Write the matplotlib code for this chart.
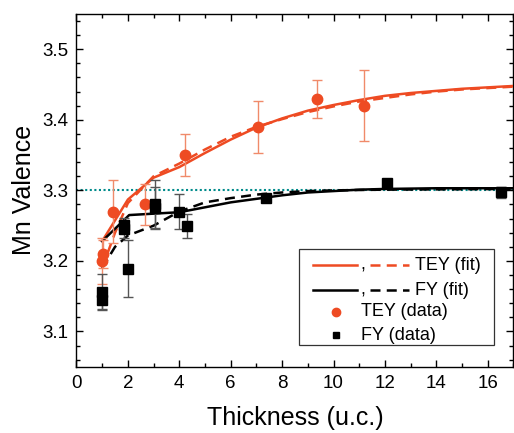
import matplotlib
matplotlib.use("Agg")
import matplotlib.pyplot as plt
from matplotlib.patches import Rectangle
from matplotlib.lines import Line2D
from matplotlib.ticker import MultipleLocator

plt.rcParams['font.family'] = ['Liberation Sans', 'DejaVu Sans']

# ---- data ----
tey_x = [1.0, 1.05, 1.42, 2.68, 4.22, 7.07, 9.35, 11.2]
tey_y = [3.200, 3.210, 3.270, 3.280, 3.350, 3.390, 3.430, 3.420]
tey_err = [0.033, 0.020, 0.045, 0.029, 0.030, 0.037, 0.027, 0.050]

fy_x = [1.0, 1.0, 1.83, 1.83, 1.99, 3.05, 3.05, 4.0, 4.29, 7.37, 12.07, 16.5]
fy_y = [3.145, 3.156, 3.245, 3.251, 3.189, 3.275, 3.281, 3.270, 3.250, 3.289, 3.310, 3.297]
fy_err = [0.013, 0.025, 0.012, 0.010, 0.040, 0.030, 0.034, 0.025, 0.017, 0.006, 0.003, 0.008]

tey_fit_x = [1.0, 2.0, 3.0, 4.0, 5.0, 6.0, 7.0, 8.0, 9.0, 10.0, 11.0, 12.0, 13.0, 14.0, 15.0, 16.0, 17.0]
tey_fit_solid = [3.228, 3.287, 3.318, 3.333, 3.353, 3.372, 3.389, 3.402, 3.413, 3.421, 3.428, 3.434, 3.438, 3.441, 3.444, 3.446, 3.448]
tey_fit_dash_x = [1.0, 1.5, 2.0, 3.0, 4.0, 5.0, 6.0, 7.0, 8.0, 9.0, 10.0, 11.0, 12.0, 13.0, 14.0, 15.0, 16.0, 17.0]
tey_fit_dash = [3.190, 3.240, 3.282, 3.320, 3.338, 3.358, 3.376, 3.390, 3.401, 3.411, 3.419, 3.426, 3.431, 3.436, 3.440, 3.443, 3.445, 3.447]

fy_fit_x = [1.0, 2.05, 3.0, 4.0, 5.0, 6.0, 7.0, 8.0, 9.0, 10.0, 11.0, 12.0, 14.0, 17.0]
fy_fit_solid = [3.228, 3.265, 3.267, 3.269, 3.276, 3.283, 3.288, 3.293, 3.297, 3.299, 3.301, 3.302, 3.303, 3.303]
fy_fit_dash_x = [1.0, 1.5, 2.0, 3.0, 4.0, 5.0, 6.0, 7.0, 8.0, 9.0, 10.0, 12.0, 17.0]
fy_fit_dash = [3.190, 3.220, 3.236, 3.250, 3.270, 3.283, 3.289, 3.294, 3.297, 3.299, 3.300, 3.301, 3.302]

ref_level = 3.30

orange = '#EE4B23'
orange_err = '#F08A6A'

fig = plt.figure(figsize=(5.14, 4.33), dpi=100)
ax = fig.add_axes([0.1488, 0.153, 0.8502, 0.8147])

ax.axhline(ref_level, color='#008B8B', lw=1.5, ls=(0, (1, 1.2)), zorder=1)

ax.plot(tey_fit_x, tey_fit_solid, color=orange, lw=1.8, zorder=3)
ax.plot(tey_fit_dash_x, tey_fit_dash, color=orange, lw=1.8, ls=(0, (4, 2.5)), zorder=3)
ax.plot(fy_fit_x, fy_fit_solid, color='black', lw=1.8, zorder=3)
ax.plot(fy_fit_dash_x, fy_fit_dash, color='black', lw=1.8, ls=(0, (4, 2.5)), zorder=3)

ax.errorbar(tey_x, tey_y, yerr=tey_err, fmt='o', color=orange, ms=7.5,
            ecolor=orange_err, elinewidth=1.0, capsize=3.5, capthick=1.0, zorder=4)
ax.errorbar(fy_x, fy_y, yerr=fy_err, fmt='s', color='black', ms=6.5,
            ecolor='#555555', elinewidth=1.0, capsize=3.5, capthick=1.0, zorder=4)

ax.set_xlim(0, 17)
ax.set_ylim(3.05, 3.55)
ax.xaxis.set_major_locator(MultipleLocator(2))
ax.xaxis.set_minor_locator(MultipleLocator(1))
ax.yaxis.set_major_locator(MultipleLocator(0.1))
ax.yaxis.set_minor_locator(MultipleLocator(0.02))
ax.tick_params(which='both', direction='in', top=True, right=True, labelsize=13.5, width=1.0)
ax.tick_params(which='major', length=5, pad=6)
ax.tick_params(which='minor', length=3)
for s in ax.spines.values():
    s.set_linewidth(1.0)

ax.set_xlabel('Thickness (u.c.)', fontsize=18, labelpad=10)
ax.set_ylabel('Mn Valence', fontsize=18, labelpad=4)

# ---- manual legend ----
T = ax.transAxes
ax.add_patch(Rectangle((0.509, 0.0615), 0.446, 0.2725, transform=T,
                       facecolor='white', edgecolor='#333333', lw=0.9, zorder=6))
rows = [0.288, 0.217, 0.156, 0.090]
fs = 13
for y, col, lab in [(rows[0], orange, 'TEY (fit)'), (rows[1], 'black', 'FY (fit)')]:
    ax.add_line(Line2D([0.541, 0.642], [y, y], transform=T, color=col, lw=1.8, zorder=7))
    ax.text(0.650, y - 0.013, ',', transform=T, fontsize=fs, ha='left', va='baseline', zorder=7)
    ax.add_line(Line2D([0.672, 0.761], [y, y], transform=T, color=col, lw=1.8,
                       ls=(0, (4, 2.5)), zorder=7))
    ax.text(0.775, y, lab, transform=T, fontsize=fs, ha='left', va='center', zorder=7)
ax.add_line(Line2D([0.594], [rows[2]], transform=T, color=orange, marker='o', ms=6, ls='none', zorder=7))
ax.text(0.651, rows[2], 'TEY (data)', transform=T, fontsize=fs, ha='left', va='center', zorder=7)
ax.add_line(Line2D([0.594], [rows[3]], transform=T, color='black', marker='s', ms=5, ls='none', zorder=7))
ax.text(0.651, rows[3], 'FY (data)', transform=T, fontsize=fs, ha='left', va='center', zorder=7)

fig.savefig('out.png', dpi=100)
